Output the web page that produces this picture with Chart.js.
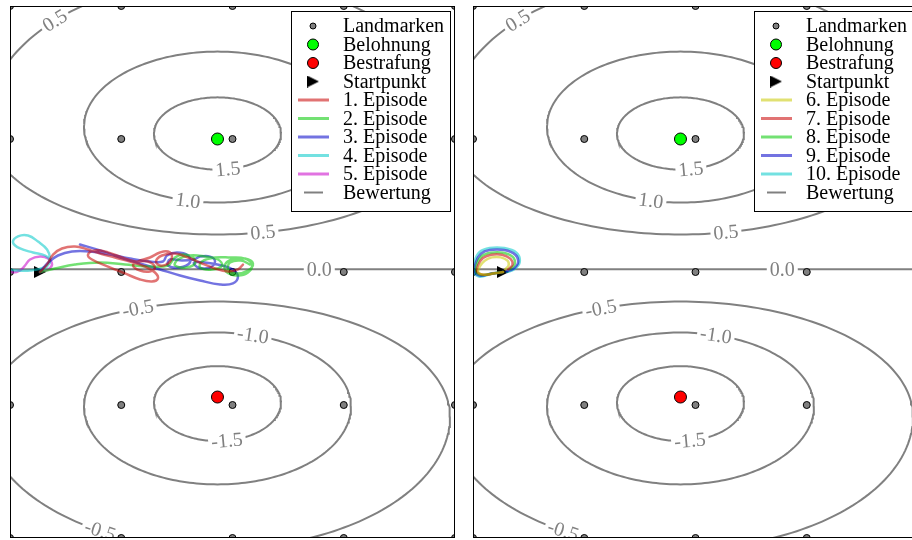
<!DOCTYPE html>
<html>
<head>
<meta charset="utf-8">
<script src="https://cdn.jsdelivr.net/npm/chart.js@4.4.1/dist/chart.umd.min.js"></script>
<style>
  html, body { margin: 0; padding: 0; background: #fff; overflow: hidden; width: 912px; height: 540px; }
  .panel { position: absolute; top: 0; width: 465px; height: 540px; }
</style>
</head>
<body>
<div class="panel" style="left:0px"><canvas id="panelA" width="465" height="540"></canvas></div>
<div class="panel" style="left:463px"><canvas id="panelB" width="465" height="540"></canvas></div>
<script>
// ---- field: landmarks, reward, punishment, start ----
const landmarkX = [-2, -1, 0, 1, 2];
const landmarkY = [-2, -1, 0, 1, 2];
const rewardPoint = [-0.135, 1.0];
const punishPoint = [-0.135, -0.94];
const startPoint = [-1.73, 0.0];

// ---- value function contours (egg-shaped closed curves) ----
const contourLevels        = [1.5, 1.0, 0.5, -0.5, -1.0, -1.5];
const contourCenterX       = [-0.135, -0.135, -0.135, -0.135, -0.135, -0.135];
const contourCenterY       = [1.04, 1.092, 1.10, -1.087, -1.01, -0.98];
const contourRadiusX       = [0.571, 1.20, 2.086, 2.09, 1.20, 0.571];
const contourRadiusTop     = [0.273, 0.565, 1.108, 0.865, 0.555, 0.272];
const contourRadiusBottom  = [0.270, 0.570, 0.818, 0.995, 0.587, 0.291];
const zeroContourY = 0.02;

// contour labels: contour index (-1 = zero line) and position along it
// (angle in degrees on the curve, or x value on the zero line)
const labelContour = [2, 2, 1, 0, -1, 3, 4, 5, 3];
const labelParam   = [134.5, -78.7, -102.8, -80.5, 0.78, 110, 74.6, -81.4, -120.3];

// ---- trajectories, first run (episodes 1-5) ----
const episode1 = [[-1.73,0],[-1.667,0.056],[-1.613,0.131],[-1.533,0.177],[-1.416,0.192],[-1.299,0.169],[-1.191,0.139],[-1.056,0.109],[-0.921,0.079],[-0.787,0.041],[-0.697,-0.004],[-0.670,-0.049],[-0.724,-0.071],[-0.831,-0.056],[-0.966,-0.011],[-1.119,0.041],[-1.263,0.094],[-1.299,0.131],[-1.236,0.162],[-1.119,0.147],[-0.993,0.109],[-0.876,0.079],[-0.760,0.079],[-0.697,0.034],[-0.742,0.004],[-0.831,0.011],[-0.894,0.049],[-0.849,0.079],[-0.742,0.109],[-0.652,0.147],[-0.580,0.154],[-0.544,0.116],[-0.580,0.064],[-0.652,0.049],[-0.688,0.079],[-0.634,0.124],[-0.517,0.139],[-0.400,0.109],[-0.292,0.071],[-0.157,0.026],[-0.040,0.004],[0.049,0.019],[0.094,0.056]];
const episode2 = [[-1.73,0],[-1.596,0.026],[-1.416,0.056],[-1.191,0.072],[-0.966,0.056],[-0.742,0.041],[-0.580,0.049],[-0.517,0.109],[-0.445,0.131],[-0.355,0.109],[-0.337,0.064],[-0.418,0.034],[-0.517,0.049],[-0.490,0.094],[-0.382,0.124],[-0.247,0.116],[-0.130,0.094],[-0.094,0.049],[-0.184,0.019],[-0.292,0.034],[-0.274,0.079],[-0.157,0.109],[-0.022,0.109],[0.112,0.101],[0.175,0.056],[0.139,-0.004],[0.040,-0.026],[-0.058,0.004],[-0.067,0.056],[-0.004,0.094],[0.112,0.101],[0.184,0.064],[0.139,0.011],[0.031,-0.011],[-0.040,0.019],[-0.022,0.071],[0.076,0.086],[0.157,0.056]];
const episode3 = [[-1.73,0],[-1.658,0.071],[-1.569,0.124],[-1.443,0.154],[-1.281,0.154],[-1.101,0.131],[-0.921,0.101],[-0.742,0.079],[-0.625,0.079],[-0.589,0.124],[-0.499,0.147],[-0.400,0.124],[-0.382,0.071],[-0.472,0.034],[-0.580,0.049],[-0.562,0.094],[-0.454,0.086],[-0.346,0.094],[-0.292,0.116],[-0.202,0.116],[-0.157,0.079],[-0.202,0.034],[-0.310,0.034],[-0.346,0.071],[-0.247,0.071],[-0.094,0.049],[0.004,0.019],[0.049,-0.034],[0.004,-0.086],[-0.112,-0.094],[-0.292,-0.064],[-0.472,-0.026],[-0.652,0.019],[-0.831,0.064],[-1.011,0.109],[-1.191,0.162],[-1.371,0.207]];
const episode4 = [[-1.73,0],[-1.667,0.041],[-1.640,0.101],[-1.667,0.169],[-1.748,0.229],[-1.838,0.274],[-1.928,0.267],[-1.973,0.222],[-1.910,0.177],[-1.793,0.147],[-1.685,0.124],[-1.640,0.079],[-1.694,0.034],[-1.820,0.011],[-1.928,0.011],[-2.0,0.019]];
const episode5 = [[-1.73,0],[-1.658,0.019],[-1.622,0.056],[-1.658,0.101],[-1.730,0.116],[-1.820,0.094],[-1.865,0.049],[-1.910,0.011],[-1.973,-0.004],[-2.0,0.011]];

// ---- trajectories, second run (episodes 6-10) ----
const episode6  = [[-1.73,0],[-1.81,-0.01],[-1.895,-0.02],[-1.95,-0.005],[-1.94,0.04],[-1.895,0.085],[-1.83,0.11],[-1.75,0.11],[-1.69,0.085],[-1.68,0.05],[-1.71,0.02]];
const episode7  = [[-1.73,0],[-1.815,-0.012],[-1.91,-0.02],[-1.96,0.0],[-1.955,0.05],[-1.91,0.105],[-1.835,0.13],[-1.74,0.13],[-1.665,0.10],[-1.645,0.055],[-1.685,0.02]];
const episode8  = [[-1.73,0],[-1.82,-0.012],[-1.92,-0.022],[-1.97,0.0],[-1.965,0.06],[-1.92,0.12],[-1.84,0.145],[-1.73,0.145],[-1.645,0.115],[-1.625,0.06],[-1.67,0.02]];
const episode9  = [[-1.73,0],[-1.83,-0.01],[-1.93,-0.028],[-1.98,0.0],[-1.975,0.07],[-1.93,0.135],[-1.85,0.165],[-1.72,0.165],[-1.62,0.13],[-1.595,0.07],[-1.645,0.02],[-1.70,0.005]];
const episode10 = [[-1.73,0],[-1.84,-0.015],[-1.94,-0.035],[-1.99,0.0],[-1.985,0.08],[-1.94,0.15],[-1.85,0.18],[-1.72,0.18],[-1.61,0.145],[-1.58,0.075],[-1.63,0.02],[-1.695,0.0]];

const episodeLabelsA = ['1. Episode', '2. Episode', '3. Episode', '4. Episode', '5. Episode'];
const episodeLabelsB = ['6. Episode', '7. Episode', '8. Episode', '9. Episode', '10. Episode'];

const RED = 'rgba(200,0,0,0.55)', GREEN = 'rgba(0,200,0,0.55)', BLUE = 'rgba(0,0,200,0.55)',
      CYAN = 'rgba(0,200,200,0.55)', MAGENTA = 'rgba(200,0,200,0.55)', YELLOW = 'rgba(200,200,0,0.55)';
const CONTOUR_GRAY = '#808080';
const FONT = '"Liberation Serif", "Times New Roman", serif';

// right-pointing start marker
const startMarker = document.createElement('canvas');
startMarker.width = 12; startMarker.height = 12;
(function () {
  const c = startMarker.getContext('2d');
  c.fillStyle = '#000';
  c.beginPath(); c.moveTo(0, 0); c.lineTo(12, 6); c.lineTo(0, 12); c.closePath(); c.fill();
})();

function toPoints(arr) { return arr.map(p => ({ x: p[0], y: p[1] })); }

// outline of a contour, sampled around its centre
function contourOutline(i) {
  const pts = [];
  for (let k = 0; k <= 240; k++) {
    const t = k / 240 * 2 * Math.PI;
    const s = Math.sin(t), c = Math.cos(t);
    const ry = s >= 0 ? contourRadiusTop[i] : contourRadiusBottom[i];
    pts.push({ x: contourCenterX[i] + contourRadiusX[i] * c, y: contourCenterY[i] + ry * s });
  }
  return pts;
}

function buildDatasets(episodes, labels, colors) {
  const ds = [];
  const grid = [];
  landmarkY.forEach(y => landmarkX.forEach(x => grid.push({ x, y })));
  ds.push({ label: 'Landmarken', legendKind: 'point', data: grid, pointRadius: 3.5, legendRadius: 3,
            backgroundColor: '#808080', borderColor: '#000', borderWidth: 1, order: 2, clip: 0 });
  ds.push({ label: 'Belohnung', legendKind: 'point', data: [{ x: rewardPoint[0], y: rewardPoint[1] }],
            pointRadius: 6, legendRadius: 5.5, backgroundColor: '#00ff00', borderColor: '#000', borderWidth: 1, order: 2, clip: 0 });
  ds.push({ label: 'Bestrafung', legendKind: 'point', data: [{ x: punishPoint[0], y: punishPoint[1] }],
            pointRadius: 6, legendRadius: 5.5, backgroundColor: '#ff0000', borderColor: '#000', borderWidth: 1, order: 2, clip: 0 });
  ds.push({ label: 'Startpunkt', legendKind: 'image', data: [{ x: startPoint[0], y: startPoint[1] }],
            pointStyle: startMarker, pointRadius: 6, order: 2, clip: 0 });
  episodes.forEach((ep, i) => {
    ds.push({ label: labels[i], legendKind: 'line', data: toPoints(ep), showLine: true, pointRadius: 0,
              borderColor: colors[i], borderWidth: 2.5, tension: 0.4, borderCapStyle: 'round',
              borderJoinStyle: 'round', order: 1, clip: 0 });
  });
  contourLevels.forEach((lv, i) => {
    ds.push({ label: i === 0 ? 'Bewertung' : 'level ' + lv, legendKind: i === 0 ? 'shortLine' : null,
              contourIndex: i, data: contourOutline(i), showLine: true, pointRadius: 0,
              borderColor: CONTOUR_GRAY, borderWidth: 2, tension: 0, order: 3, clip: 0 });
  });
  ds.push({ label: 'level 0', contourIndex: -1, data: [{ x: -2.2, y: zeroContourY }, { x: 2.2, y: zeroContourY }],
            showLine: true, pointRadius: 0, borderColor: CONTOUR_GRAY, borderWidth: 2, order: 3, clip: 0 });
  return ds;
}

function fmtLevel(v) { return (v < 0 ? '-' : '') + Math.abs(v).toFixed(1); }

// contour labels: drawn right after their contour, blanking the line underneath
const contourLabelPlugin = {
  id: 'contourLabels',
  afterDatasetDraw(chart, args) {
    const d = chart.data.datasets[args.index];
    if (d.contourIndex === undefined) return;
    const xs = chart.scales.x, ys = chart.scales.y, area = chart.chartArea;
    const ctx = chart.ctx;
    const ppx = xs.getPixelForValue(1) - xs.getPixelForValue(0);
    const ppy = ys.getPixelForValue(0) - ys.getPixelForValue(1);
    ctx.save();
    ctx.beginPath(); ctx.rect(area.left, area.top, area.right - area.left, area.bottom - area.top); ctx.clip();
    ctx.font = '20px ' + FONT;
    labelContour.forEach((ci, j) => {
      if (ci !== d.contourIndex) return;
      let px, py, ang = 0, text;
      if (ci === -1) {
        px = xs.getPixelForValue(labelParam[j]); py = ys.getPixelForValue(zeroContourY); text = fmtLevel(0);
      } else {
        const t = labelParam[j] * Math.PI / 180, s = Math.sin(t), c = Math.cos(t);
        const ry = s >= 0 ? contourRadiusTop[ci] : contourRadiusBottom[ci];
        px = xs.getPixelForValue(contourCenterX[ci] + contourRadiusX[ci] * c);
        py = ys.getPixelForValue(contourCenterY[ci] + ry * s);
        ang = Math.atan2(-ry * c * ppy, -contourRadiusX[ci] * s * ppx);
        if (ang > Math.PI / 2) ang -= Math.PI;
        if (ang < -Math.PI / 2) ang += Math.PI;
        text = fmtLevel(contourLevels[ci]);
      }
      const w = ctx.measureText(text).width;
      ctx.save();
      ctx.translate(px, py); ctx.rotate(ang);
      ctx.fillStyle = '#fff';
      ctx.fillRect(-w / 2 - 3, -6, w + 6, 12);
      ctx.fillStyle = CONTOUR_GRAY;
      ctx.textAlign = 'center'; ctx.textBaseline = 'middle';
      ctx.fillText(text, 0, 1);
      ctx.restore();
    });
    ctx.restore();
  }
};

// axes frame and boxed legend in the upper right corner
const frameLegendPlugin = {
  id: 'frameLegend',
  afterDraw(chart) {
    const ctx = chart.ctx, area = chart.chartArea;
    ctx.save();
    ctx.strokeStyle = '#000'; ctx.lineWidth = 1;
    ctx.strokeRect(area.left + 0.5, area.top + 0.5, area.right - area.left - 1, area.bottom - area.top - 1);

    const items = chart.data.datasets.filter(d => d.legendKind);
    ctx.font = '20px ' + FONT;
    const maxW = Math.max(...items.map(d => ctx.measureText(d.label).width));
    const rowH = 18.5;
    const w = Math.round(52 + maxW + 6);
    const h = Math.round(15 + (items.length - 1) * rowH + 18);
    const left = Math.round(area.right - 5 - w), top = area.top + 5;
    ctx.fillStyle = '#fff';
    ctx.fillRect(left, top, w, h);
    ctx.strokeRect(left + 0.5, top + 0.5, w, h);
    items.forEach((d, i) => {
      const cy = top + 15 + i * rowH, mx = left + 22;
      if (d.legendKind === 'point') {
        ctx.beginPath(); ctx.arc(mx, cy, d.legendRadius, 0, 2 * Math.PI);
        ctx.fillStyle = d.backgroundColor; ctx.fill();
        ctx.lineWidth = 1; ctx.strokeStyle = '#000'; ctx.stroke();
      } else if (d.legendKind === 'image') {
        ctx.drawImage(d.pointStyle, mx - 6, cy - 6, 12, 12);
      } else if (d.legendKind === 'line') {
        ctx.beginPath(); ctx.moveTo(left + 7, cy); ctx.lineTo(left + 38, cy);
        ctx.lineWidth = 3; ctx.strokeStyle = d.borderColor; ctx.stroke();
      } else if (d.legendKind === 'shortLine') {
        ctx.beginPath(); ctx.moveTo(left + 13, cy); ctx.lineTo(left + 32, cy);
        ctx.lineWidth = 2; ctx.strokeStyle = d.borderColor; ctx.stroke();
      }
      ctx.fillStyle = '#000';
      ctx.textAlign = 'left'; ctx.textBaseline = 'middle';
      ctx.fillText(d.label, left + 52, cy + 1);
    });
    ctx.restore();
  }
};

function makePanel(id, episodes, labels, colors) {
  return new Chart(document.getElementById(id), {
    type: 'scatter',
    data: { datasets: buildDatasets(episodes, labels, colors) },
    options: {
      responsive: false,
      devicePixelRatio: 1,
      animation: false,
      events: [],
      layout: { autoPadding: false, padding: { left: 10, right: 10, top: 6, bottom: 2 } },
      scales: {
        x: { type: 'linear', min: -2, max: 2, display: false },
        y: { type: 'linear', min: -2, max: 2, display: false }
      },
      plugins: { legend: { display: false }, tooltip: { enabled: false } }
    },
    plugins: [contourLabelPlugin, frameLegendPlugin]
  });
}

makePanel('panelA', [episode1, episode2, episode3, episode4, episode5], episodeLabelsA,
          [RED, GREEN, BLUE, CYAN, MAGENTA]);
makePanel('panelB', [episode6, episode7, episode8, episode9, episode10], episodeLabelsB,
          [YELLOW, RED, GREEN, BLUE, CYAN]);
</script>
</body>
</html>
